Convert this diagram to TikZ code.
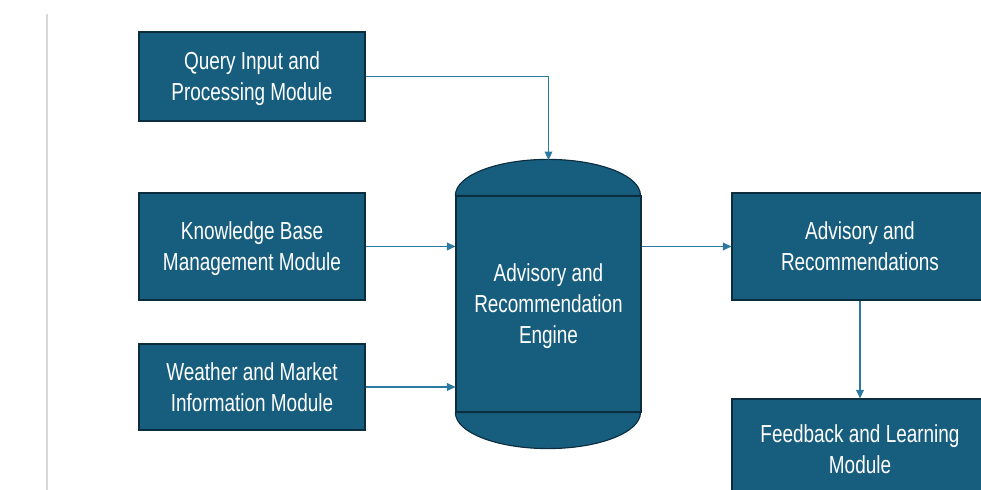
\documentclass[tikz,border=0pt]{standalone}
\usepackage{fontspec}
\setmainfont{Liberation Sans}[FakeStretch=0.77]
\usetikzlibrary{arrows.meta}

\definecolor{boxfill}{RGB}{23,94,126}
\definecolor{boxline}{RGB}{12,45,62}
\definecolor{arrowblue}{RGB}{44,122,160}
\definecolor{rulegray}{RGB}{217,217,217}

\tikzset{
  module/.style={draw=boxline, fill=boxfill, line width=0.8pt, text=white,
    align=center, inner sep=0pt, text depth=0pt, font=\fontsize{17.5pt}{22pt}\selectfont},
  feed/.style={draw=arrowblue, line width=1pt, -{Triangle[length=6pt, width=5.5pt]}},
  tankcap/.style={draw=boxline, fill=boxfill, line width=0.8pt}
}

\begin{document}
\begin{tikzpicture}[x=0.025cm, y=0.025cm]
  \useasboundingbox (0, 0) rectangle (981, 490);
  \clip (0, 0) rectangle (981, 490);

  % page rule
  \draw[rulegray, line width=1.2pt] (47, 0) -- (47, 476);

  % input modules
  \foreach \nm / \ycord / \hgt / \lineone / \linetwo in {
    query/413.5/2.225cm/Query Input and/Processing Module,
    know/243.5/2.675cm/Knowledge Base/Management Module,
    weather/103/2.15cm/Weather and Market/Information Module
  }{
    \node[module, minimum width=5.65cm, minimum height=\hgt] (\nm) at (252, \ycord) {\lineone\\\linetwo};
  }

  % engine cylinder
  \node[module, minimum width=4.625cm, minimum height=5.4cm] (engine) at (548.5, 186)
    {Advisory and\\Recommendation\\Engine};
  \draw[tankcap] (engine.north west) arc[start angle=180, end angle=0, x radius=2.3125cm, y radius=0.9cm] -- cycle;
  \draw[tankcap] (engine.south west) arc[start angle=180, end angle=360, x radius=2.3125cm, y radius=0.9cm] -- cycle;
  \coordinate (engtop) at (548.5, 330);

  % output side
  \node[module, minimum width=6.4cm, minimum height=2.675cm] (advice) at (860, 243.5)
    {Advisory and\\Recommendations};
  \node[module, minimum width=6.4cm, minimum height=2.525cm] (feedback) at (860, 40.5)
    {Feedback and Learning\\Module};

  % connectors
  \draw[feed] (query.east) -| (engtop);
  \draw[feed] (know.east) -- (know.east -| engine.west);
  \draw[feed] (weather.east) -- (weather.east -| engine.west);
  \draw[feed] (engine.east |- advice.west) -- (advice.west);
  \draw[feed] (advice.south) -- (feedback.north);
\end{tikzpicture}
\end{document}
